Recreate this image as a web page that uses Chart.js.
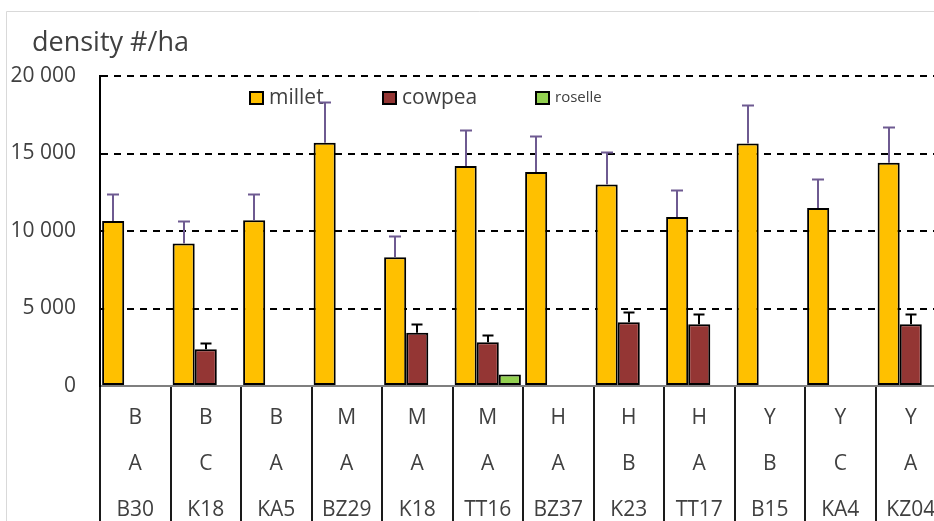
<!DOCTYPE html>
<html>
<head>
<meta charset="utf-8">
<script src="https://cdn.jsdelivr.net/npm/chart.js@4.4.1/dist/chart.umd.min.js"></script>
<style>
  html, body { margin: 0; padding: 0; background: #fff; overflow: hidden; }
  #wrap { position: absolute; left: 0; top: 0; width: 952px; height: 521px; }
</style>
</head>
<body>
<div id="wrap"><canvas id="c" width="952" height="521"></canvas></div>
<script>
// Category rows (three label levels per column)
const regions  = ['B', 'B', 'B', 'M', 'M', 'M', 'H', 'H', 'H', 'Y', 'Y', 'Y'];
const classes  = ['A', 'C', 'A', 'A', 'A', 'A', 'A', 'B', 'A', 'B', 'C', 'A'];
const fields   = ['B30', 'K18', 'KA5', 'BZ29', 'K18', 'TT16', 'BZ37', 'K23', 'TT17', 'B15', 'KA4', 'KZ04'];

// Plant density (#/ha) and standard error per crop
const millet      = [10650, 9200, 10700, 15700, 8300, 14200, 13800, 13000, 10900, 15650, 11480, 14400];
const milletErr   = [1750, 1450, 1700, 2600, 1400, 2300, 2300, 2100, 1770, 2500, 1860, 2330];
const cowpea      = [null, 2370, null, null, 3440, 2820, null, 4110, 3980, null, null, 3980];
const cowpeaErr   = [null, 380, null, null, 540, 450, null, 660, 650, null, null, 650];
const roselle     = [null, null, null, null, null, 750, null, null, null, null, null, null];

const yTicks = [0, 5000, 10000, 15000, 20000];
const seriesNames = ['millet', 'cowpea', 'roselle'];

const FONT = "'Open Sans', 'Lato', sans-serif";
const TEXT = '#404040';

const labels = regions.map((r, i) => [r, classes[i], fields[i]]);

function fmtThousands(v) {
  return String(v).replace(/\B(?=(\d{3})+(?!\d))/g, ' ');
}

// Outer frame, y title and the in-plot legend
const decorations = {
  id: 'decorations',
  beforeDraw(chart) {
    const ctx = chart.ctx;
    ctx.save();
    ctx.fillStyle = '#fff';
    ctx.fillRect(0, 0, chart.width, chart.height);
    ctx.strokeStyle = '#d9d9d9';
    ctx.lineWidth = 1;
    ctx.beginPath();
    ctx.moveTo(6.5, chart.height + 5);
    ctx.lineTo(6.5, 11.5);
    ctx.lineTo(chart.width + 5, 11.5);
    ctx.stroke();
    ctx.restore();
  },
  afterDatasetsDraw(chart) {
    const ctx = chart.ctx;
    ctx.save();
    ctx.fillStyle = TEXT;
    ctx.textBaseline = 'middle';
    ctx.textAlign = 'left';
    ctx.font = `27px ${FONT}`;
    ctx.fillText('density #/ha', 32, 43);

    const items = [
      { x: 250, size: 21 },
      { x: 383, size: 21 },
      { x: 536, size: 15 }
    ];
    chart.data.datasets.forEach((ds, i) => {
      const it = items[i];
      const by = 92;
      ctx.fillStyle = ds.backgroundColor;
      ctx.fillRect(it.x, by, 13, 12);
      ctx.strokeStyle = '#000';
      ctx.lineWidth = 2;
      ctx.strokeRect(it.x, by, 13, 12);
      ctx.fillStyle = TEXT;
      ctx.font = `${it.size}px ${FONT}`;
      ctx.fillText(ds.label, it.x + 19, by + 6);
    });
    ctx.restore();
  }
};

// Upper error bars drawn from each bar's value through the y scale
const errorBars = {
  id: 'errorBars',
  afterDatasetsDraw(chart) {
    const ctx = chart.ctx;
    const y = chart.scales.y;
    const sets = [
      { idx: 0, err: milletErr, color: '#6E5A91', cap: 12 },
      { idx: 1, err: cowpeaErr, color: '#000000', cap: 11 }
    ];
    ctx.save();
    ctx.lineWidth = 2;
    sets.forEach(s => {
      const meta = chart.getDatasetMeta(s.idx);
      const vals = chart.data.datasets[s.idx].data;
      meta.data.forEach((bar, j) => {
        const v = vals[j];
        const e = s.err[j];
        if (v == null || e == null) return;
        const x = Math.round(bar.x);
        const y0 = y.getPixelForValue(v);
        const y1 = Math.round(y.getPixelForValue(v + e)) + 0.5;
        ctx.strokeStyle = s.color;
        ctx.beginPath();
        ctx.moveTo(x, y0);
        ctx.lineTo(x, y1);
        ctx.moveTo(x - s.cap / 2, y1);
        ctx.lineTo(x + s.cap / 2, y1);
        ctx.stroke();
      });
    });
    ctx.restore();
  }
};

const barStyle = { borderColor: '#000', borderWidth: 2, borderSkipped: false };

new Chart(document.getElementById('c'), {
  type: 'bar',
  data: {
    labels,
    datasets: [
      { label: seriesNames[0], data: millet, backgroundColor: '#FFC000', ...barStyle },
      { label: seriesNames[1], data: cowpea, backgroundColor: '#943634', ...barStyle },
      { label: seriesNames[2], data: roselle, backgroundColor: '#92D050', ...barStyle }
    ]
  },
  options: {
    responsive: false,
    animation: false,
    devicePixelRatio: 1,
    layout: { padding: { top: 76, right: 6, left: 0, bottom: 0 } },
    datasets: { bar: { categoryPercentage: 0.94, barPercentage: 1.0, grouped: true } },
    plugins: {
      legend: { display: false },
      tooltip: { enabled: false },
      title: { display: false }
    },
    scales: {
      x: {
        offset: true,
        afterFit(scale) { scale.height = 135; },
        border: { display: true, color: '#7f7f7f', width: 2 },
        grid: {
          offset: true,
          drawOnChartArea: false,
          drawTicks: true,
          tickLength: 140,
          color: '#1a1a1a',
          lineWidth: 2
        },
        ticks: {
          autoSkip: false,
          maxRotation: 0,
          padding: -131.5,
          color: TEXT,
          font: { family: FONT, size: 21, lineHeight: '46.3px' }
        }
      },
      y: {
        min: 0,
        max: 20000,
        afterFit(scale) { scale.width = 100; },
        afterBuildTicks(scale) { scale.ticks = yTicks.map(v => ({ value: v })); },
        grid: {
          drawTicks: false,
          color: ctx => (ctx.tick && ctx.tick.value === 0 ? 'rgba(0,0,0,0)' : '#000'),
          lineWidth: 2
        },
        // solid axis line; the dash pattern applies to the gridlines
        border: { display: true, color: '#000', width: 2, dash: [7, 6] },
        ticks: {
          padding: 24,
          color: TEXT,
          font: { family: FONT, size: 21 },
          callback: v => fmtThousands(v)
        }
      }
    }
  },
  plugins: [decorations, errorBars]
});
</script>
</body>
</html>
